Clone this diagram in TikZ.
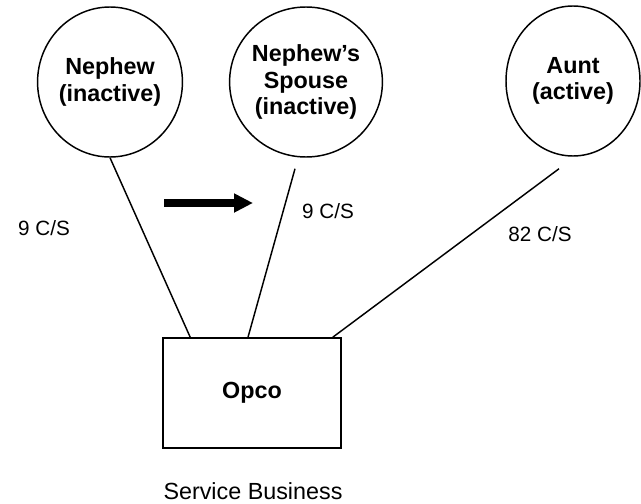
\documentclass[tikz,border=0pt]{standalone}
\usepackage{fontspec}
\setmainfont{Liberation Sans}
\usetikzlibrary{arrows.meta,shapes.geometric,calc}

\begin{document}
\begin{tikzpicture}[x=0.75pt,y=-0.75pt,
  party/.style={draw,ellipse,line width=1.1pt,minimum width=100.5pt,minimum height=112.5pt,inner sep=0pt,align=center,font=\fontsize{17.5}{20}\selectfont\bfseries},
  firm/.style={draw,rectangle,line width=1.2pt,minimum width=133.5pt,minimum height=82.5pt,font=\fontsize{17.5}{20}\selectfont\bfseries},
  link/.style={line width=1.1pt},
  share/.style={font=\fontsize{15.5}{18}\selectfont}]
\useasboundingbox (0,0) rectangle (641,503);
\node[party] (nephew) at (110,82) {Nephew\\(inactive)};
\node[party] (spouse) at (306,82) {Nephew’s\\Spouse\\(inactive)};
\node[party] (aunt) at (573,81) {Aunt\\(active)};
\node[firm] (opco) at (252,393) {Opco};
\node[font=\fontsize{17.5}{20}\selectfont,anchor=base] (svc) at (253,499) {Service Business};
\node[share] (c1) at (44,228) {9 C/S};
\node[share] (c2) at (328,211) {9 C/S};
\node[share] (c3) at (540,234) {82 C/S};
\coordinate (sp-top) at ($(spouse.south)+(-11,11)$);
\coordinate (au-top) at ($(aunt.south)+(-14,12)$);
\draw[link] (nephew.south) -- ($(opco.north west)+(28,0)$);
\draw[link] (sp-top) -- ($(opco.north)+(-4,0)$);
\draw[link] (au-top) -- ($(opco.north east)+(-9,0)$);
\coordinate (mv-from) at (164,203);
\coordinate (mv-to) at (253,203);
\draw[line width=5.6pt,-{Triangle[length=14.25pt,width=13.5pt]}] (mv-from) -- (mv-to);
\end{tikzpicture}
\end{document}
